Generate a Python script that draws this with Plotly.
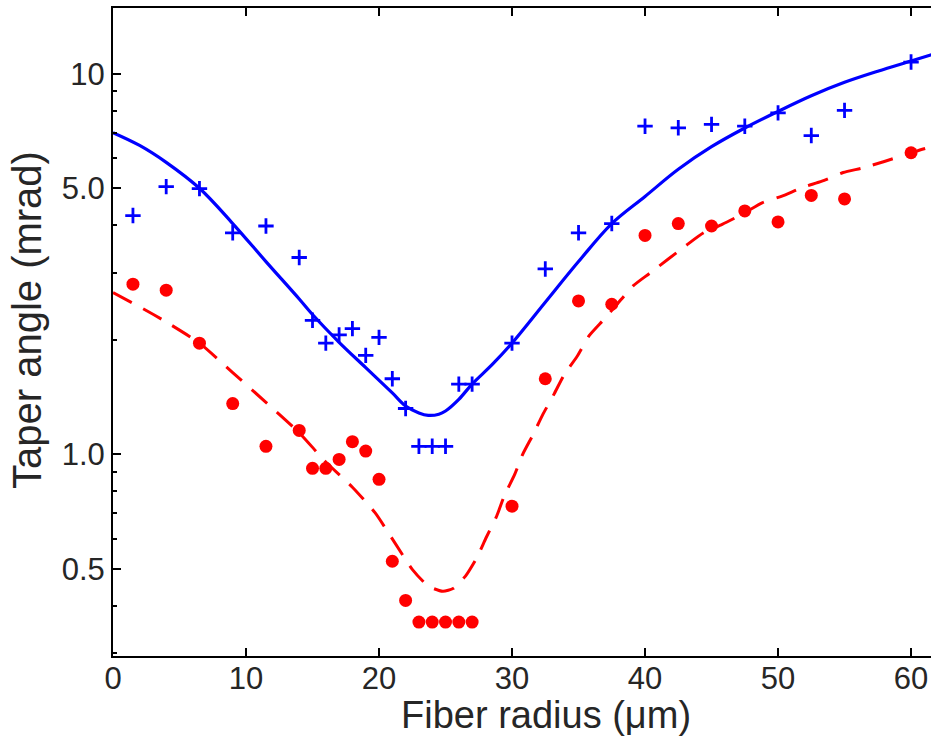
import plotly.graph_objects as go

# Measured data (blue crosses)
blue_x = [1.5, 4, 6.5, 9, 11.5, 14, 15, 16, 17, 18, 19, 20, 21, 22, 23, 24, 25, 26, 27,
          30, 32.5, 35, 37.5, 40, 42.5, 45, 47.5, 50, 52.5, 55, 60]
blue_y = [4.24, 5.05, 4.99, 3.82, 3.98, 3.29, 2.25, 1.96, 2.06, 2.14, 1.82, 2.03, 1.58, 1.32,
          1.05, 1.05, 1.05, 1.53, 1.53, 1.96, 3.07, 3.82, 4.04, 7.28, 7.21, 7.36, 7.28, 7.89,
          6.88, 8.01, 10.73]

# Measured data (red dots)
red_x = [1.5, 4, 6.5, 9, 11.5, 14, 15, 16, 17, 18, 19, 20, 21, 22, 23, 24, 25, 26, 27,
         30, 32.5, 35, 37.5, 40, 42.5, 45, 47.5, 50, 52.5, 55, 60]
red_y = [2.80, 2.70, 1.96, 1.36, 1.05, 1.156, 0.919, 0.919, 0.970, 1.08, 1.02, 0.86, 0.524,
         0.4135, 0.3626, 0.3626, 0.3626, 0.3626, 0.3626, 0.731, 1.58, 2.53, 2.48, 3.76, 4.04,
         3.98, 4.36, 4.08, 4.79, 4.69, 6.20]

# Model curve (blue solid)
blue_fit_x = [0, 2, 4, 6.5, 9, 11.5, 14, 15, 17, 19, 21, 22, 23, 23.7, 24.5, 25, 26, 27,
              28.5, 30, 32.5, 35, 37.5, 40, 42.5, 45, 47.5, 50, 52.5, 55, 57.5, 60, 62]
blue_fit_y = [7.0, 6.48, 5.85, 5.0, 4.04, 3.21, 2.56, 2.33, 1.97, 1.69, 1.45, 1.34, 1.285,
              1.266, 1.275, 1.30, 1.395, 1.53, 1.72, 1.96, 2.51, 3.21, 4.04, 4.76, 5.61,
              6.43, 7.20, 7.96, 8.75, 9.49, 10.15, 10.8, 11.35]

# Model curve (red dashed)
red_fit_x = [0, 2.3, 3.7, 6.5, 9, 11.5, 14, 16, 18, 19.7, 21, 22.5, 23.7, 24.8, 25.6, 26.5,
             27.35, 28.05, 28.85, 29.4, 30.2, 30.8, 31.6, 32.3, 33.16, 33.93, 34.9, 35.8,
             36.9, 37.9, 39.1, 40.4, 43, 44.4, 45.8, 47.5, 48.8, 50.3, 51.8, 53.3, 54.9,
             56.4, 58.05, 60.4, 62]
red_fit_y = [2.66, 2.41, 2.26, 1.96, 1.64, 1.37, 1.14, 0.955, 0.82, 0.703, 0.60, 0.499, 0.451,
             0.437, 0.445, 0.479, 0.535, 0.604, 0.689, 0.775, 0.886, 1.0, 1.13, 1.27, 1.44,
             1.62, 1.81, 2.05, 2.26, 2.48, 2.77, 3.0, 3.52, 3.82, 4.02, 4.31, 4.58, 4.77,
             5.02, 5.22, 5.5, 5.66, 5.89, 6.26, 6.5]

x_ticks = [0, 10, 20, 30, 40, 50, 60]
y_ticks = [0.5, 1.0, 5.0, 10]
y_tick_text = ["0.5", "1.0", "5.0", "10"]
y_minor = [0.3, 0.4, 0.6, 0.7, 0.8, 0.9, 2, 3, 4, 6, 7, 8, 9]

FONT = "Arial, Liberation Sans, Helvetica, sans-serif"
TXT = "#262626"

fig = go.Figure()
fig.add_trace(go.Scatter(x=blue_fit_x, y=blue_fit_y, mode="lines",
                         line=dict(color="#0000FF", width=3.2, shape="spline", smoothing=1.0),
                         showlegend=False, hoverinfo="skip"))
fig.add_trace(go.Scatter(x=red_fit_x, y=red_fit_y, mode="lines",
                         line=dict(color="#FF0000", width=3, dash="21px,13px",
                                   shape="spline", smoothing=0.6),
                         showlegend=False, hoverinfo="skip"))
fig.add_trace(go.Scatter(x=blue_x, y=blue_y, mode="markers",
                         marker=dict(symbol="cross-thin", size=11, color="#0000FF",
                                     line=dict(color="#0000FF", width=2.8)),
                         showlegend=False))
fig.add_trace(go.Scatter(x=red_x, y=red_y, mode="markers",
                         marker=dict(symbol="circle", size=13, color="#FF0000",
                                     line=dict(width=0)),
                         showlegend=False))

fig.update_layout(
    width=931, height=736,
    margin=dict(l=113, r=0, t=8, b=80, autoexpand=False),
    paper_bgcolor="white", plot_bgcolor="white",
    font=dict(family=FONT, size=31, color=TXT),
    xaxis=dict(range=[0, 61.5], tickvals=x_ticks, ticks="inside", ticklen=8, tickwidth=1.5,
               tickcolor="black", showline=True, linecolor="black", linewidth=2,
               mirror="ticks", showgrid=False, zeroline=False, automargin=False,
               tickfont=dict(family=FONT, size=31, color=TXT), ticklabelstandoff=-6),
    yaxis=dict(type="log", range=[-0.5296, 1.1726], tickvals=y_ticks, ticktext=y_tick_text,
               ticks="inside", ticklen=8, tickwidth=1.5, tickcolor="black",
               showline=True, linecolor="black", linewidth=2, mirror=False,
               showgrid=False, zeroline=False, automargin=False,
               minor=dict(tickmode="array", tickvals=y_minor, ticks="inside", ticklen=4,
                          tickwidth=1.5, tickcolor="black", showgrid=False),
               tickfont=dict(family=FONT, size=31, color=TXT), ticklabelstandoff=0),
    annotations=[
        dict(text="Fiber radius (μm)", xref="paper", yref="paper",
             x=(546 - 113) / 818, y=(656 - 715) / 648, xanchor="center", yanchor="middle",
             showarrow=False, font=dict(family=FONT, size=38, color=TXT)),
        dict(text="Taper angle (mrad)", xref="paper", yref="paper",
             x=(27 - 113) / 818, y=(656 - 320) / 648, xanchor="center", yanchor="middle",
             textangle=-90, showarrow=False, font=dict(family=FONT, size=40, color=TXT)),
    ],
)

fig.write_html("out.html", config={"displayModeBar": False},
               post_script="document.body.style.margin='0';document.body.style.overflow='hidden';")
